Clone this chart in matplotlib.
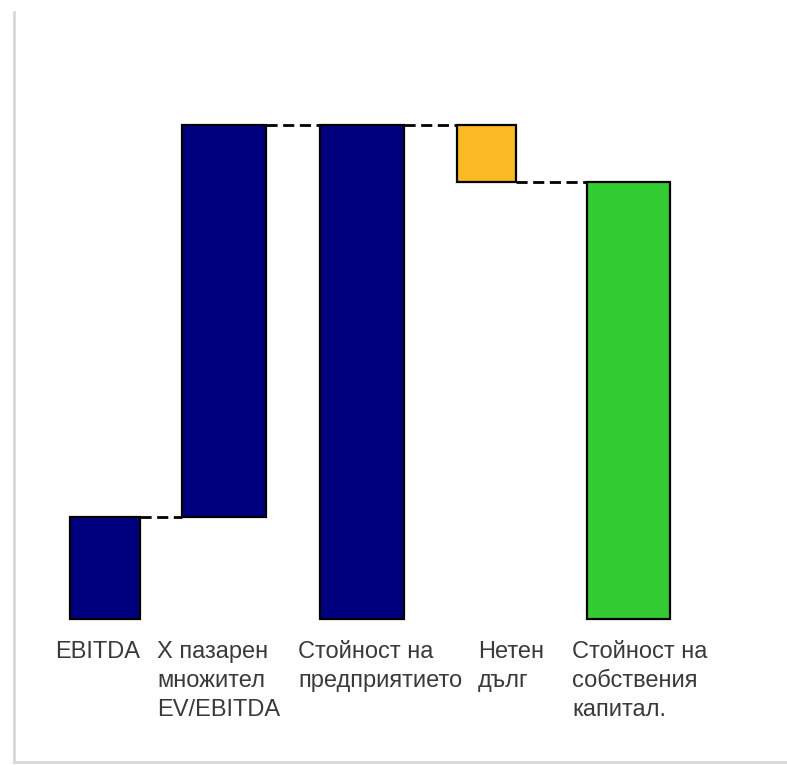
import matplotlib.pyplot as plt

# waterfall: EBITDA x multiple -> enterprise value -> minus net debt -> equity
labels = ['EBITDA', 'X пазарен\nмножител\nEV/EBITDA', 'Стойност на\nпредприятието',
          'Нетен\nдълг', 'Стойност на\nсобствения\nкапитал.']
steps = [102, 392, 494, -57, 437]
is_total = [True, False, True, False, True]

# layout (horizontal units of the axes)
centers = [105, 224, 362, 486, 628]
widths = [70, 84, 84, 59, 83]
label_x = [55, 157, 298, 478, 572]
colors = ['#00007f', '#00007f', '#00007f', '#fbb923', '#33cc33']

plt.rcParams['font.family'] = ['Liberation Sans', 'DejaVu Sans']

fig = plt.figure(figsize=(7.87, 7.65), dpi=100)
ax = fig.add_axes([14 / 787, 3 / 765, 773 / 787, 750 / 765])

bottoms = []
running = 0
for val, tot in zip(steps, is_total):
    if tot:
        bottoms.append(0)
        running = val
    else:
        if val >= 0:
            bottoms.append(running)
        else:
            bottoms.append(running + val)
        running += val
heights = [abs(v) for v in steps]

ax.bar(centers, heights, width=widths, bottom=bottoms, color=colors,
       edgecolor='black', linewidth=1.6, zorder=2)

# dashed connectors between consecutive bars
level = 0
for i in range(len(steps) - 1):
    level = steps[i] if is_total[i] else level + steps[i]
    x0 = centers[i] + widths[i] / 2
    x1 = centers[i + 1] - widths[i + 1] / 2
    ax.plot([x0, x1], [level, level], color='black', linestyle=(0, (4, 2)),
            linewidth=2, zorder=1)

for x, lab in zip(label_x, labels):
    ax.text(x, -22, lab, ha='left', va='top', fontsize=17, color='#3a3a3a',
            linespacing=1.42)

ax.set_xlim(14, 787)
ax.set_ylim(-143, 607)
ax.set_xticks([])
ax.set_yticks([])
for side in ['top', 'right']:
    ax.spines[side].set_visible(False)
for side in ['left', 'bottom']:
    ax.spines[side].set_color('#d8d8d8')
    ax.spines[side].set_linewidth(2)

fig.savefig('out.png', dpi=100)
